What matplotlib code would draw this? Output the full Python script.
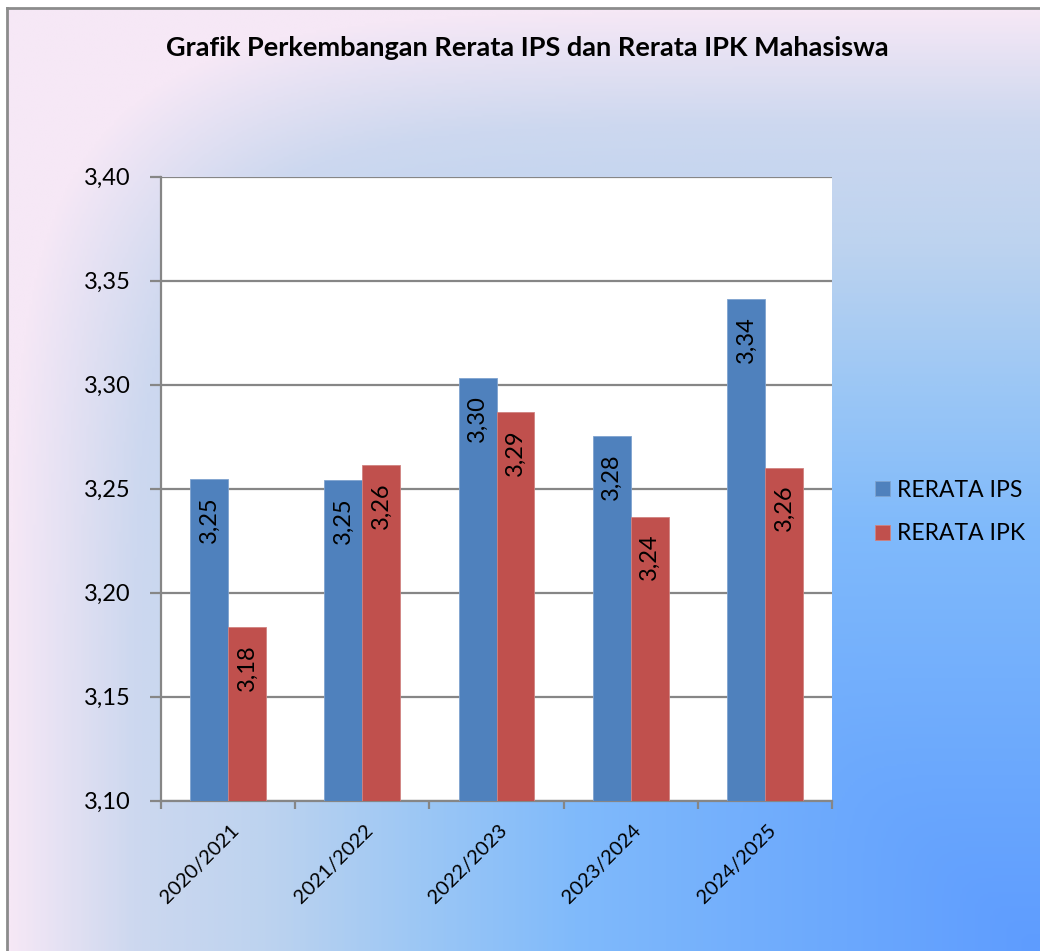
import matplotlib
matplotlib.use('Agg')
import matplotlib.pyplot as plt
import numpy as np
from matplotlib.colors import LinearSegmentedColormap

# data
tahun = ['2020/2021', '2021/2022', '2022/2023', '2023/2024', '2024/2025']
rerata_ips = [3.2546, 3.2540, 3.3031, 3.2753, 3.3413]
rerata_ipk = [3.1834, 3.2614, 3.2869, 3.2365, 3.2601]
yticks = [3.10, 3.15, 3.20, 3.25, 3.30, 3.35, 3.40]

BLUE = '#4F81BD'
RED = '#C0504D'
GRID = '#868686'

plt.rcParams['font.family'] = ['Lato', 'DejaVu Sans']

W, H = 1040, 951
fig = plt.figure(figsize=(W / 100, H / 100), dpi=100)
fig.patch.set_facecolor('white')

# gradient background of the chart area
bg = fig.add_axes([7 / W, 0, 1 - 7 / W, 1 - 8 / H])
bg.set_axis_off()
gx, gy = np.meshgrid(np.linspace(0, 1, 400), np.linspace(0, 1, 400))
dx = 1 - gx          # distance from right edge
dy = gy              # distance from bottom edge
d = np.clip((dx ** 6 + dy ** 6) ** (1 / 6), 0, 1)
stops = [(0.0, '#5E9CFF'), (0.2, '#6CA9FD'), (0.45, '#80BAFB'),
         (0.6, '#9CC7F5'), (0.75, '#BDD3EF'), (0.88, '#CDD8EF'),
         (1.0, '#F6E8F6')]
cmap = LinearSegmentedColormap.from_list('bg', stops)
bg.imshow(d, cmap=cmap, vmin=0, vmax=1, origin='lower', aspect='auto',
          extent=[0, 1, 0, 1], interpolation='bilinear')
bg.set_xlim(0, 1)
bg.set_ylim(0, 1)
bg.plot([0, 0], [0, 1], color='#8C8C8C', lw=2, clip_on=False)
bg.plot([0, 1], [1, 1], color='#8C8C8C', lw=2, clip_on=False)

fig.text(527 / W, 1 - 48 / H, 'Grafik Perkembangan Rerata IPS dan Rerata IPK Mahasiswa',
         ha='center', va='center', fontsize=19.5, fontweight='bold')

left, right, top, bottom = 161, 832, 176.7, 800.7
ax = fig.add_axes([left / W, 1 - bottom / H, (right - left) / W, (bottom - top) / H])
ax.set_facecolor('white')

x = np.arange(len(tahun))
w = 0.283
b1 = ax.bar(x - w / 2, rerata_ips, w, color=BLUE, edgecolor='#7FA3CF', lw=0.6,
            label='RERATA IPS', zorder=3)
b2 = ax.bar(x + w / 2, rerata_ipk, w, color=RED, edgecolor='#D08280', lw=0.6,
            label='RERATA IPK', zorder=3)

for bars, vals in [(b1, rerata_ips), (b2, rerata_ipk)]:
    for r, v in zip(bars, vals):
        ax.annotate(f'{v:.2f}'.replace('.', ','),
                    (r.get_x() + r.get_width() / 2, r.get_height()),
                    xytext=(0, -17), textcoords='offset pixels',
                    ha='center', va='top', rotation=90, fontsize=17, zorder=4)

ax.set_xlim(-0.5, len(tahun) - 0.5)
ax.set_ylim(3.10, 3.40)
ax.set_yticks(yticks)
ax.set_yticklabels([f'{t:.2f}'.replace('.', ',') for t in yticks], fontsize=17)
ax.yaxis.grid(True, color=GRID, lw=1.6, zorder=0)
ax.set_axisbelow(True)
ax.tick_params(axis='y', length=8, width=1.6, color=GRID, pad=14)

ax.set_xticks(np.arange(len(tahun) + 1) - 0.5)
ax.set_xticklabels([])
ax.tick_params(axis='x', length=6, width=1.6, color=GRID)
for xi, lab in zip(x, tahun):
    ax.annotate(lab, (xi, 0), xycoords=('data', 'axes fraction'),
                xytext=(2, -21), textcoords='offset pixels',
                ha='right', va='top', rotation=45, rotation_mode='anchor',
                fontsize=14.5, annotation_clip=False)

for s in ['top', 'right']:
    ax.spines[s].set_visible(False)
for s in ['left', 'bottom']:
    ax.spines[s].set_color(GRID)
    ax.spines[s].set_linewidth(1.6)

fig.legend(handles=[b1, b2], loc='center left',
           bbox_to_anchor=(875 / W, 1 - 512 / H), frameon=False,
           fontsize=16.5, handlelength=0.66, handleheight=0.66,
           handletextpad=0.3, labelspacing=1.0, borderpad=0, borderaxespad=0)

fig.savefig('out.png', dpi=100)
